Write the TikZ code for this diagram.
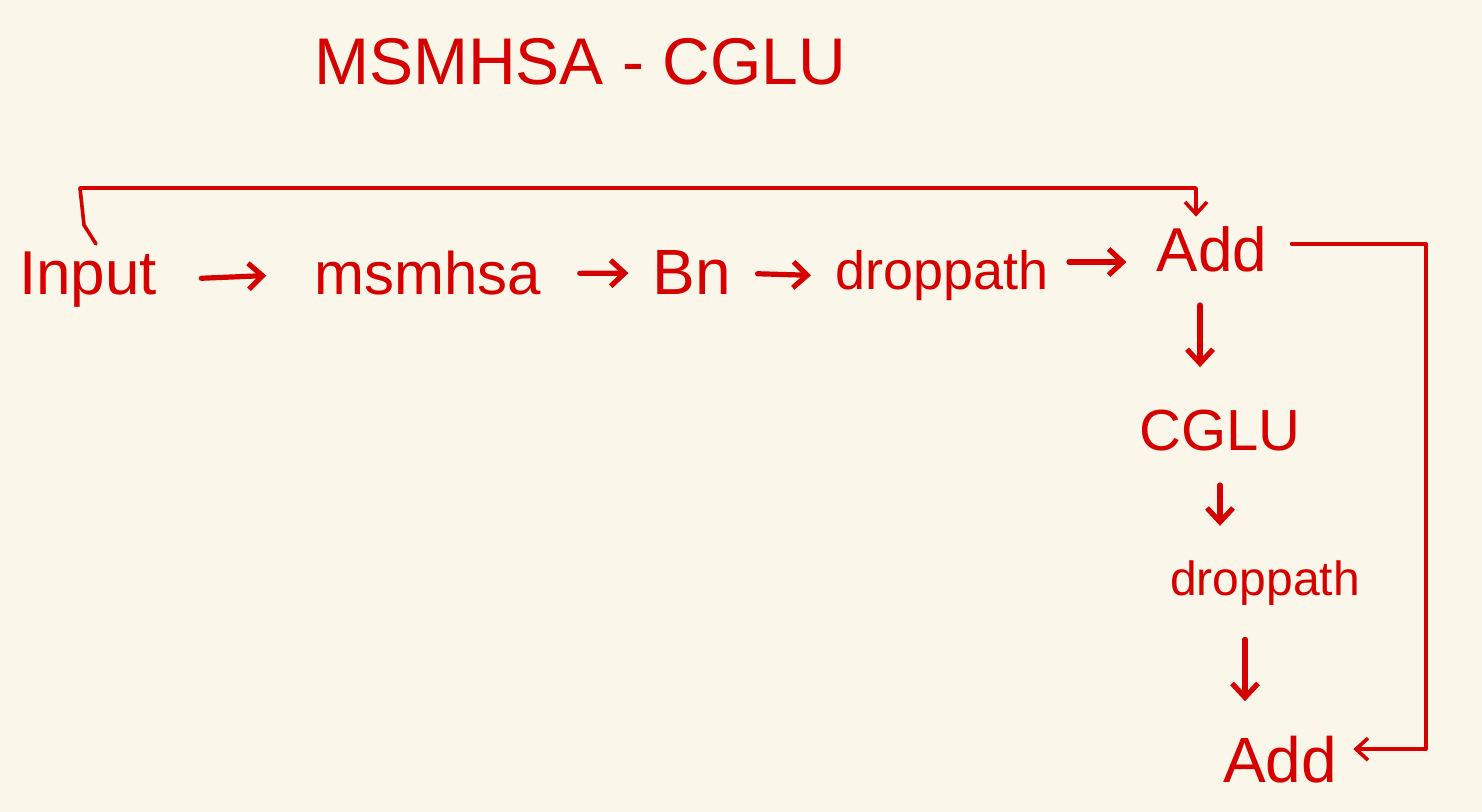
\documentclass[tikz,border=0pt]{standalone}
\usepackage{fontspec}
\setmainfont{Liberation Sans}
\usetikzlibrary{arrows.meta}
\definecolor{bg}{HTML}{FAF7EA}
\definecolor{ink}{HTML}{D50000}
\begin{document}
\begin{tikzpicture}[x=0.5pt,y=-0.5pt,
  lbl/.style={text=ink,inner sep=0pt,anchor=base},
  flow/.style={draw=ink,line width=2.6pt,line cap=round,line join=round,
    -{Straight Barb[length=7pt,width=13pt,line width=2.6pt]}},
  skip/.style={draw=ink,line width=1.8pt,line cap=round,line join=round},
  skiparrow/.style={-{Straight Barb[length=6pt,width=11pt,line width=1.8pt]}}]
\fill[bg] (0,0) rectangle (1482,812);
\useasboundingbox (0,0) rectangle (1482,812);
% title
\node[lbl,font=\fontsize{33}{36}\selectfont] (title) at (580,85) {MSMHSA - CGLU};
% main row
\node[lbl,font=\fontsize{31}{34}\selectfont] (in) at (88,295) {Input};
\node[lbl,font=\fontsize{30}{34}\selectfont] (ms) at (428,295) {msmhsa};
\node[lbl,font=\fontsize{32}{34}\selectfont] (bn) at (692,295) {Bn};
\node[lbl,font=\fontsize{27}{30}\selectfont] (dp1) at (942,290) {droppath};
\node[lbl,font=\fontsize{31}{34}\selectfont] (add1) at (1212,272) {Add};
% column
\node[lbl,font=\fontsize{29}{32}\selectfont] (cglu) at (1220,450) {CGLU};
\node[lbl,font=\fontsize{24}{28}\selectfont] (dp2) at (1265,595) {droppath};
\node[lbl,font=\fontsize{32}{34}\selectfont] (add2) at (1280,782) {Add};
% horizontal arrows
\draw[flow,shorten <=22pt,shorten >=24pt] (in.east) -- (ms.west);
\draw[flow,shorten <=19pt,shorten >=12pt] (ms.east) -- (bn.west);
\draw[flow,shorten <=13pt,shorten >=12pt] (bn.east) -- (dp1.west);
\draw[flow,shorten <=10pt,shorten >=15pt] ([yshift=7pt]dp1.east) -- ([yshift=7pt]dp1.east -| add1.west);
% vertical arrows
\draw[flow,shorten <=16pt,shorten >=21pt] ([xshift=-6pt]add1.south) -- ([xshift=-6pt]add1.south |- cglu.north);
\draw[flow,shorten <=17pt,shorten >=17pt] (cglu.south) -- (cglu.south |- dp2.north);
\draw[flow,shorten <=17pt,shorten >=17pt] ([xshift=-10pt]dp2.south) -- ([xshift=-10pt]dp2.south |- add2.north);
% skip connection 1
\coordinate (skb) at (84,225);
\coordinate (skl) at (80,188);
\coordinate (skr) at (1196,188);
\draw[skip,skiparrow,shorten >=5pt] ([xshift=4pt,yshift=4pt]in.north) -- (skb) -- (skl) -- (skr) -- (add1.north -| skr);
% skip connection 2
\coordinate (rs) at (1426,500);
\draw[skip,skiparrow] ([xshift=12pt,yshift=3pt]add1.east) -| (rs) |- ([xshift=8pt,yshift=5pt]add2.east);
\end{tikzpicture}
\end{document}
